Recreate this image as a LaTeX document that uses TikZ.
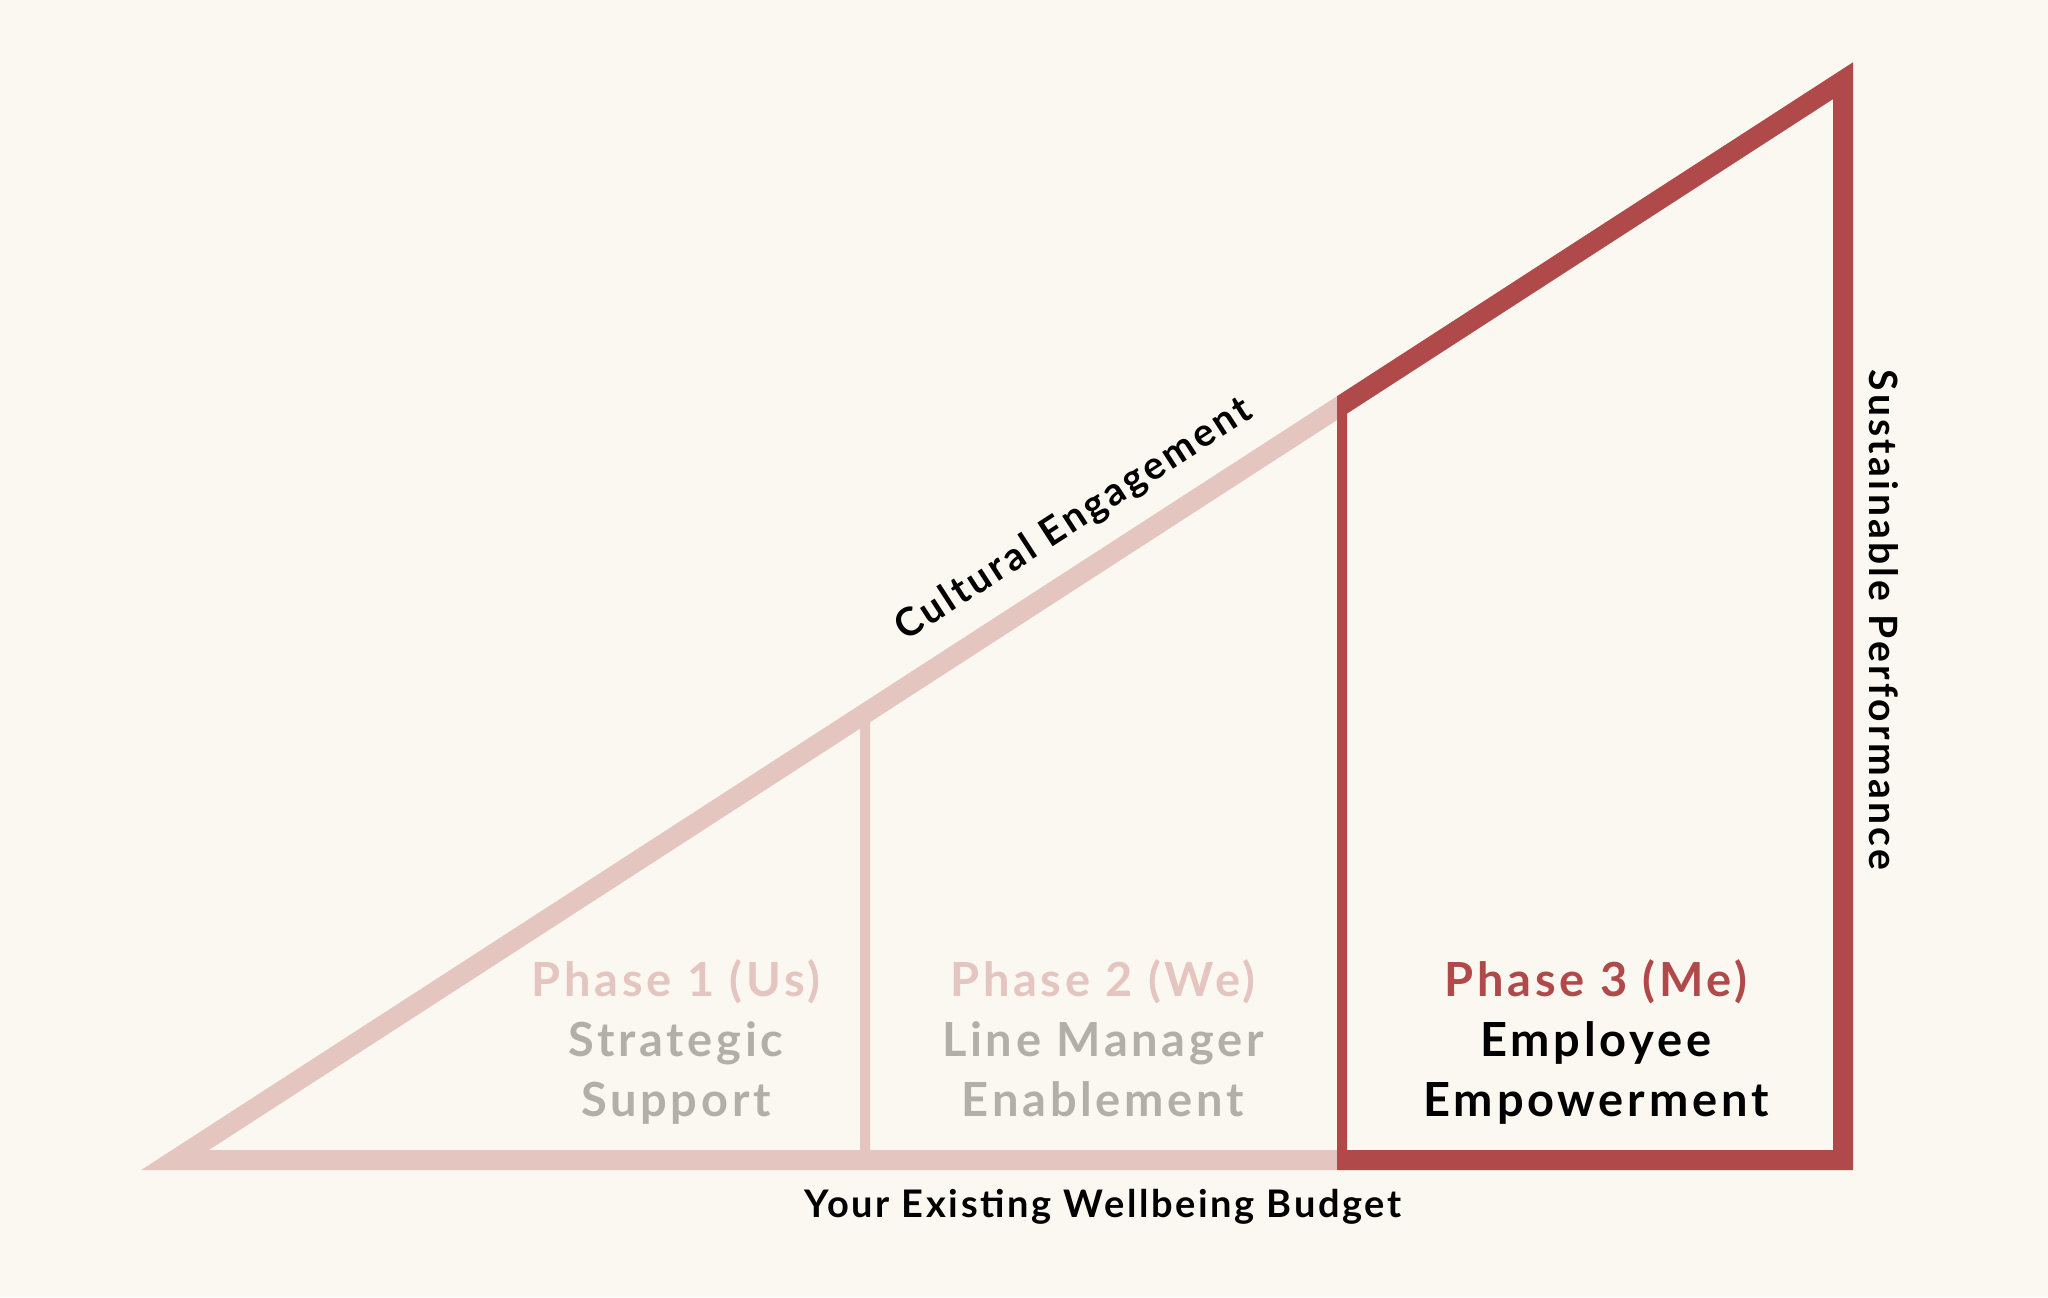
\documentclass[tikz,border=0pt]{standalone}
\usepackage{fontspec}
\setmainfont{Lato}
\usetikzlibrary{calc}
\definecolor{bgc}{HTML}{FBF8F2}
\definecolor{pinkc}{HTML}{E4C5BF}
\definecolor{redc}{HTML}{B04A4A}
\definecolor{grayc}{HTML}{B2AFA9}
\tikzset{
  edge/.style={line width=10pt, line join=miter, miter limit=10},
  divider/.style={line width=5pt},
  phasehead/.style={anchor=base, inner sep=0pt, font=\fontsize{23.5}{28}\selectfont\bfseries\addfontfeatures{LetterSpace=8}},
  phasebody/.style={anchor=base, inner sep=0pt, font=\fontsize{23.5}{28}\selectfont\bfseries\addfontfeatures{LetterSpace=8}},
  axislabel/.style={inner sep=0pt, font=\fontsize{19}{22}\selectfont\bfseries\addfontfeatures{LetterSpace=7}}
}
\begin{document}
\begin{tikzpicture}[x=0.5pt,y=-0.5pt]
\fill[bgc] (0,0) rectangle (2048,1297);
\useasboundingbox (0,0) rectangle (2048,1297);
\coordinate (L) at (175,1160);
\coordinate (R) at (1843,1160);
\coordinate (A) at (1843,80.7);
\coordinate (B1) at (865,1160);
\coordinate (T1) at ($(L)!{(865-175)/(1843-175)}!(A)$);
\coordinate (B2) at (1342,1160);
\coordinate (T2) at ($(L)!{(1342-175)/(1843-175)}!(A)$);
% pink full triangle
\draw[edge, pinkc] (L) -- (R) -- (A) -- cycle;
\draw[divider, pinkc] (B1) -- (T1);
% red phase 3 part
\begin{scope}
\clip (1337,0) rectangle (2048,1297);
\draw[edge, redc] (L) -- (R) -- (A) -- cycle;
\draw[divider, redc] (B2) -- (T2);
\end{scope}
% phase texts
\node[phasehead, text=pinkc] (p1a) at (676,996) {Phase 1 (Us)};
\node[phasebody, text=grayc] (p1b) at (676,1056) {Strategic};
\node[phasebody, text=grayc] (p1c) at (676,1116) {Support};
\node[phasehead, text=pinkc] (p2a) at (1103,996) {Phase 2 (We)};
\node[phasebody, text=grayc] (p2b) at (1103,1056) {Line Manager};
\node[phasebody, text=grayc] (p2c) at (1103,1116) {Enablement};
\node[phasehead, text=redc] (p3a) at (1596,996) {Phase 3 (Me)};
\node[phasebody, text=black] (p3b) at (1596,1056) {Employee};
\node[phasebody, text=black] (p3c) at (1596,1116) {Empowerment};
% axis labels
\node[axislabel] (xl) at (1103,1207) {Your Existing Wellbeing Budget};
\node[axislabel, rotate=-90, font=\fontsize{19.5}{22}\selectfont\bfseries\addfontfeatures{LetterSpace=8.5}] (yl) at (1884,620) {Sustainable Performance};
\node[axislabel, rotate=32.9, font=\fontsize{19.5}{22}\selectfont\bfseries\addfontfeatures{LetterSpace=8}] (hl) at (1074,520) {Cultural Engagement};
\end{tikzpicture}
\end{document}
